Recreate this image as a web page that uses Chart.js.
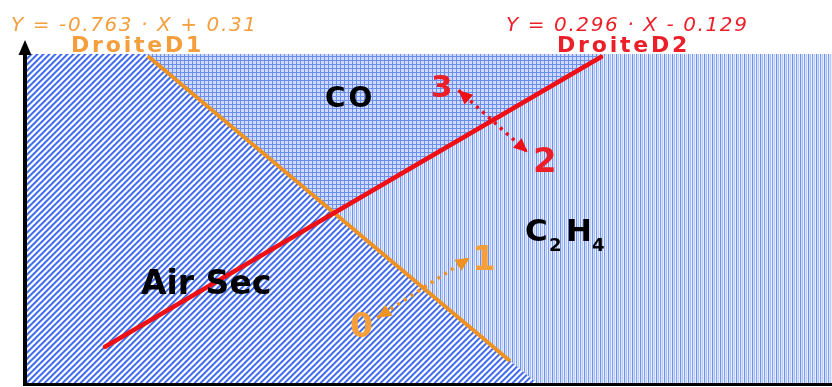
<!DOCTYPE html>
<html>
<head>
<meta charset="utf-8">
<script src="https://cdn.jsdelivr.net/npm/chart.js@4"></script>
<style>
  html, body { margin: 0; padding: 0; background: #ffffff; }
  canvas { display: block; }
</style>
</head>
<body>
<canvas id="c" width="832" height="387"></canvas>
<script>
// Diagram coordinates run 0–100 on both axes (the axes carry no ticks).
const d1X = [15.0, 60.0];          // DroiteD1
const d1Y = [99.4, 6.7];
const d2X = [9.7, 71.3];           // DroiteD2
const d2Y = [11.0, 99.1];

// Zone boundaries
const coX = [14.7, 38.2, 72.0];    // lower edge of the CO zone, filled up to the top
const coY = [100, 51.8, 100];
const airX = [0, 14.7, 63.3];      // upper edge of the "Air Sec" zone, filled down to the bottom
const airY = [100, 100, 0];
const fieldX = [0, 100];           // whole field, C2H4 zone lies behind the others
const fieldY = [100, 100];

// Transition arrows (double headed)
const arrow32X = [53.6, 62.2];
const arrow32Y = [89.0, 70.1];
const arrow01X = [43.5, 55.0];
const arrow01Y = [19.8, 38.1];

const ORANGE = 'rgb(238,146,36)';
const ORANGE_TXT = 'rgb(244,158,60)';
const RED = 'rgb(238,16,20)';
const RED_TXT = 'rgb(236,30,40)';

const canvas = document.getElementById('c');
const ctx = canvas.getContext('2d');

function pts(xs, ys) { return xs.map((x, i) => ({ x, y: ys[i] })); }

function makePattern(w, h, colorAt) {
  const t = document.createElement('canvas');
  t.width = w; t.height = h;
  const g = t.getContext('2d');
  const img = g.createImageData(w, h);
  for (let y = 0; y < h; y++) {
    for (let x = 0; x < w; x++) {
      const col = colorAt(x, y);
      const i = (y * w + x) * 4;
      img.data[i] = col[0]; img.data[i + 1] = col[1]; img.data[i + 2] = col[2]; img.data[i + 3] = 255;
    }
  }
  g.putImageData(img, 0, 0);
  return ctx.createPattern(t, 'repeat');
}

// diagonal "/" hatching
const diagCols = [[62,104,236],[70,112,238],[150,176,246],[255,255,255],[255,255,255],[196,210,250]];
const diagPat = makePattern(6, 6, (x, y) => diagCols[(x + y) % 6]);
// fine grid hatching
const gridPat = makePattern(4, 4, (x, y) => (x % 4 === 0 || y % 4 === 0) ? [108,142,240] : [206,219,252]);
// vertical hatching
const vertCols = [[108,144,240],[212,223,253],[168,190,248],[236,241,255],[124,156,242],[220,229,254],[186,204,250],[232,238,255]];
const vertPat = makePattern(8, 1, (x) => vertCols[x % 8]);

const clear = 'rgba(0,0,0,0)';

const decorPlugin = {
  id: 'diagramDecor',
  afterDatasetsDraw(chart) {
    const c = chart.ctx;
    // arrow heads on the transition arrows
    chart.data.datasets.forEach((ds, i) => {
      if (!ds.arrowHeads) return;
      const p = chart.getDatasetMeta(i).data;
      const a = p[0], b = p[p.length - 1];
      const dx = b.x - a.x, dy = b.y - a.y;
      const len = Math.hypot(dx, dy);
      const ux = dx / len, uy = dy / len;
      const L = 14, W = 13;
      const head = (tx, ty, sx, sy) => {
        const bx = tx - sx * L, by = ty - sy * L;
        c.beginPath();
        c.moveTo(tx, ty);
        c.lineTo(bx - sy * W / 2, by + sx * W / 2);
        c.lineTo(bx + sy * W / 2, by - sx * W / 2);
        c.closePath();
        c.fill();
      };
      c.save();
      c.fillStyle = ds.borderColor;
      head(b.x, b.y, ux, uy);
      head(a.x, a.y, -ux, -uy);
      c.restore();
    });

    // axes
    const xs = chart.scales.x, ys = chart.scales.y;
    const left = xs.getPixelForValue(0);
    const bottom = ys.getPixelForValue(0);
    const top = ys.getPixelForValue(100);
    c.save();
    c.fillStyle = '#000';
    c.fillRect(left - 4, top - 2, 4, bottom - top + 5);
    c.fillRect(left - 4, bottom, chart.width - left + 4, 3);
    c.beginPath();
    c.moveTo(left - 2, top - 14);
    c.lineTo(left - 8.5, top + 1);
    c.lineTo(left + 4.5, top + 1);
    c.closePath();
    c.fill();
    c.restore();
  },
  afterDraw(chart) {
    const c = chart.ctx;
    const text = (s, x, y, font, color, spacing) => {
      c.save();
      c.font = font;
      c.fillStyle = color;
      c.textAlign = 'left';
      c.textBaseline = 'alphabetic';
      c.letterSpacing = (spacing || 0) + 'px';
      c.fillText(s, x, y);
      c.restore();
    };
    const F = '"DejaVu Sans", Verdana, sans-serif';
    text('Y = -0.763 · X + 0.31', 11, 31, 'italic 300 20px ' + F, ORANGE_TXT, 1.6);
    text('DroiteD1', 71, 52, 'bold 22px ' + F, ORANGE_TXT, 2.8);
    text('Y = 0.296 · X - 0.129', 506, 31, 'italic 300 20px ' + F, RED_TXT, 1.6);
    text('DroiteD2', 557, 52, 'bold 22px ' + F, RED_TXT, 2.8);

    text('CO', 325, 107, 'bold 28px ' + F, '#000', 3);
    text('Air Sec', 141, 294, 'bold 33px ' + F, '#000', 0);
    text('C', 525, 241, 'bold 31px ' + F, '#000', 0);
    text('2', 549, 251, 'bold 18px ' + F, '#000', 0);
    text('H', 566, 241, 'bold 31px ' + F, '#000', 0);
    text('4', 592, 251, 'bold 18px ' + F, '#000', 0);

    text('3', 431, 97, 'bold 31px ' + F, RED_TXT, 0);
    text('2', 533, 172, 'bold 34px ' + F, RED_TXT, 0);
    text('1', 472, 270, 'bold 34px ' + F, ORANGE_TXT, 0);
    text('0', 350, 337, 'bold 33px ' + F, ORANGE_TXT, 0);
  }
};

new Chart(canvas, {
  type: 'line',
  data: {
    datasets: [
      { data: pts(fieldX, fieldY), fill: 'start', backgroundColor: vertPat, borderColor: clear, borderWidth: 0, order: 10 },
      { data: pts(airX, airY), fill: 'start', backgroundColor: diagPat, borderColor: clear, borderWidth: 0, order: 9 },
      { data: pts(coX, coY), fill: 'end', backgroundColor: gridPat, borderColor: clear, borderWidth: 0, order: 8 },
      { data: pts(d1X, d1Y), fill: false, borderColor: ORANGE, borderWidth: 4, order: 3 },
      { data: pts(d2X, d2Y), fill: false, borderColor: RED, borderWidth: 4.5, borderCapStyle: 'round', order: 2 },
      { data: pts(arrow32X, arrow32Y), fill: false, borderColor: RED, borderWidth: 3.5, borderDash: [3, 5], order: 1, arrowHeads: true },
      { data: pts(arrow01X, arrow01Y), fill: false, borderColor: ORANGE, borderWidth: 3.5, borderDash: [3, 5], order: 1, arrowHeads: true }
    ]
  },
  options: {
    responsive: false,
    animation: false,
    devicePixelRatio: 1,
    events: [],
    layout: { padding: { left: 27, right: 0, top: 54, bottom: 4 } },
    elements: { point: { radius: 0, hoverRadius: 0 }, line: { tension: 0 } },
    scales: {
      x: { type: 'linear', min: 0, max: 100, display: false },
      y: { type: 'linear', min: 0, max: 100, display: false }
    },
    plugins: { legend: { display: false }, tooltip: { enabled: false }, title: { display: false } }
  },
  plugins: [decorPlugin]
});
</script>
</body>
</html>
